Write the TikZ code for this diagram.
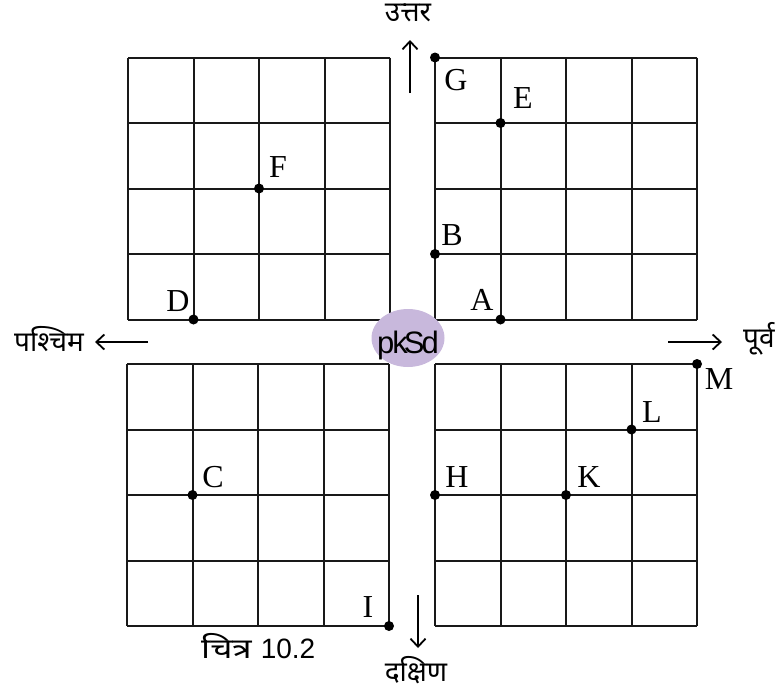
\documentclass[tikz,border=0pt]{standalone}
\usepackage{fontspec}
\setmainfont{Liberation Serif}
\newfontfamily\deva[Script=Devanagari]{Noto Sans}
\newfontfamily\devawide[Script=Devanagari,FakeStretch=1.25]{Noto Sans}
\newfontfamily\arial{Liberation Sans}
\usetikzlibrary{arrows.meta,shapes.geometric}
\definecolor{lav}{HTML}{C8B8DC}
\tikzset{
  gridline/.style={line width=2pt, black!90},
  pt/.style={circle, fill=black, inner sep=0pt, minimum size=10pt},
  lbl/.style={font=\fontsize{32}{34}\selectfont, inner sep=0pt},
  dirlbl/.style={font=\deva\fontsize{28}{30}\selectfont, inner sep=0pt},
  dirarrow/.style={line width=1.8pt, -{Straight Barb[length=8pt,width=15pt,line width=1.8pt]}}
}
\newcommand{\mygrid}[2]{%
  \foreach \i in {0,...,4} {
    \draw[gridline] ({#1+65.5*\i},#2) -- ({#1+65.5*\i},{#2+262});
    \draw[gridline] (#1,{#2+65.5*\i}) -- ({#1+262},{#2+65.5*\i});
  }%
}
\begin{document}
\begin{tikzpicture}[x=1pt,y=-1pt]
\useasboundingbox (0,0) rectangle (778,691);
% grids
\mygrid{128}{57.5}
\mygrid{435}{57.5}
\mygrid{127}{364}
\mygrid{435}{364}
% centre ellipse
\node[ellipse, fill=lav, minimum width=73pt, minimum height=58pt, inner sep=0pt] (centre) at (408,338) {};
\node[font=\arial\fontsize{31}{33}\selectfont, inner sep=0pt, anchor=base] (centretext) at (408,353) {p\kern-2ptk\kern-4ptS\kern-3ptd};
% points
\node[pt] (G) at (435,57.5) {};
\node[pt] (E) at (500.5,123) {};
\node[pt] (B) at (435,254) {};
\node[pt] (A) at (500.5,319.5) {};
\node[pt] (F) at (259,188.5) {};
\node[pt] (D) at (193.5,319.5) {};
\node[pt] (C) at (192.5,495) {};
\node[pt] (I) at (389,626) {};
\node[pt] (H) at (435,495) {};
\node[pt] (K) at (566,495) {};
\node[pt] (L) at (631.5,429.5) {};
\node[pt] (M) at (697,364) {};
% labels
\node[lbl] (lG) at (456,80) {G};
\node[lbl] (lE) at (523,98) {E};
\node[lbl] (lF) at (278,167) {F};
\node[lbl] (lB) at (452,235) {B};
\node[lbl] (lD) at (178,301) {D};
\node[lbl] (lA) at (482,300) {A};
\node[lbl] (lC) at (213,477) {C};
\node[lbl] (lH) at (457,477) {H};
\node[lbl] (lK) at (589,477) {K};
\node[lbl] (lL) at (652,412) {L};
\node[lbl] (lM) at (719,379) {M};
\node[lbl] (lI) at (368,607) {I};
% direction arrows
\coordinate (nS) at (410,93);
\coordinate (nE) at (410,40);
\coordinate (wS) at (148,342);
\coordinate (wE) at (95,342);
\coordinate (eS) at (668,342);
\coordinate (eE) at (722,342);
\coordinate (sS) at (418,595);
\coordinate (sE) at (418,648);
\draw[dirarrow] (nS) -- (nE);
\draw[dirarrow] (wS) -- (wE);
\draw[dirarrow] (eS) -- (eE);
\draw[dirarrow] (sS) -- (sE);
\node[dirlbl] (north) at (408,13) {उत्तर};
\node[dirlbl] (west) at (49,339) {पश्चिम};
\node[dirlbl, anchor=west] (east) at (743,339) {पूर्व};
\node[dirlbl] (south) at (416,670) {दक्षिण};
\node[inner sep=0pt, anchor=west] (caption) at (201,646) {{\devawide\fontsize{28}{30}\selectfont चित्र}\hspace{9pt}{\arial\fontsize{28}{30}\selectfont 10.2}};
\end{tikzpicture}
\end{document}
